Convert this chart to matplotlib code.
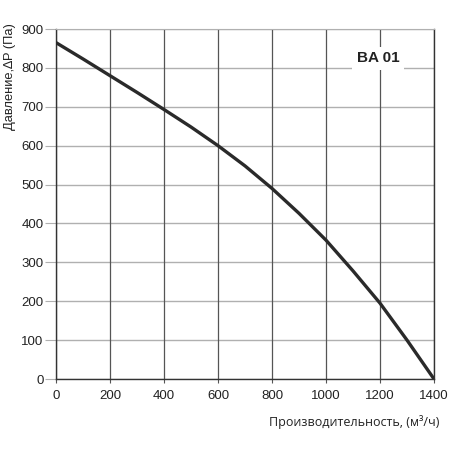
import matplotlib
matplotlib.use("Agg")
import matplotlib.pyplot as plt

flow = [0, 100, 200, 300, 400, 500, 600, 700, 800, 900, 1000, 1100, 1200, 1300, 1400]
pressure = [865, 823, 780, 737, 693, 648, 600, 548, 490, 426, 357, 278, 195, 100, 0]
xticks = [0, 200, 400, 600, 800, 1000, 1200, 1400]
yticks = [0, 100, 200, 300, 400, 500, 600, 700, 800, 900]
model = "BA 01"
xlabel = "Производительность, (м³/ч)"
ylabel = "Давление,∆P (Па)"

fig = plt.figure(figsize=(4.5, 4.5), dpi=100)
ax = fig.add_axes([56/450, 1-379/450, (434-56)/450, (379-29)/450])
ax.set_xlim(0, 1400)
ax.set_ylim(0, 900)
ax.set_xticks(xticks)
ax.set_yticks(yticks)
for y in yticks:
    ax.axhline(y, color="#b0b0b0", lw=1.0, zorder=1)
for x in xticks:
    ax.axvline(x, color="#555555", lw=0.9, zorder=1)
ax.plot(flow, pressure, color="#2a2a2a", lw=2.4, zorder=3, solid_capstyle="round")

for s in ["left", "right", "bottom"]:
    ax.spines[s].set_color("#333333")
    ax.spines[s].set_linewidth(1.0)
ax.spines["top"].set_color("#b0b0b0")
ax.tick_params(axis="x", length=3, color="#555555", labelsize=9.5, pad=5)
ax.tick_params(axis="y", length=8, color="#b0b0b0", labelsize=9.5, pad=1)
for lab in ax.get_xticklabels() + ax.get_yticklabels():
    lab.set_family(["Liberation Sans", "DejaVu Sans"])
    lab.set_color("#222222")

ax.text(1193, 825, model, ha="center", va="center", fontsize=11, fontweight="bold",
        family=["Liberation Sans", "DejaVu Sans"], color="#222222", zorder=4,
        bbox=dict(boxstyle="square,pad=0.3", fc="white", ec="none"))

fig.text(439/450, 1-422/450, xlabel, ha="right", va="center", fontsize=9,
         family=["Open Sans", "DejaVu Sans"], color="#222222")
fig.text(10/450, 1-23/450, ylabel, ha="center", va="top", rotation=90, fontsize=9.3,
         family=["Liberation Sans", "DejaVu Sans"], color="#222222")

fig.savefig("out.png", dpi=100)
